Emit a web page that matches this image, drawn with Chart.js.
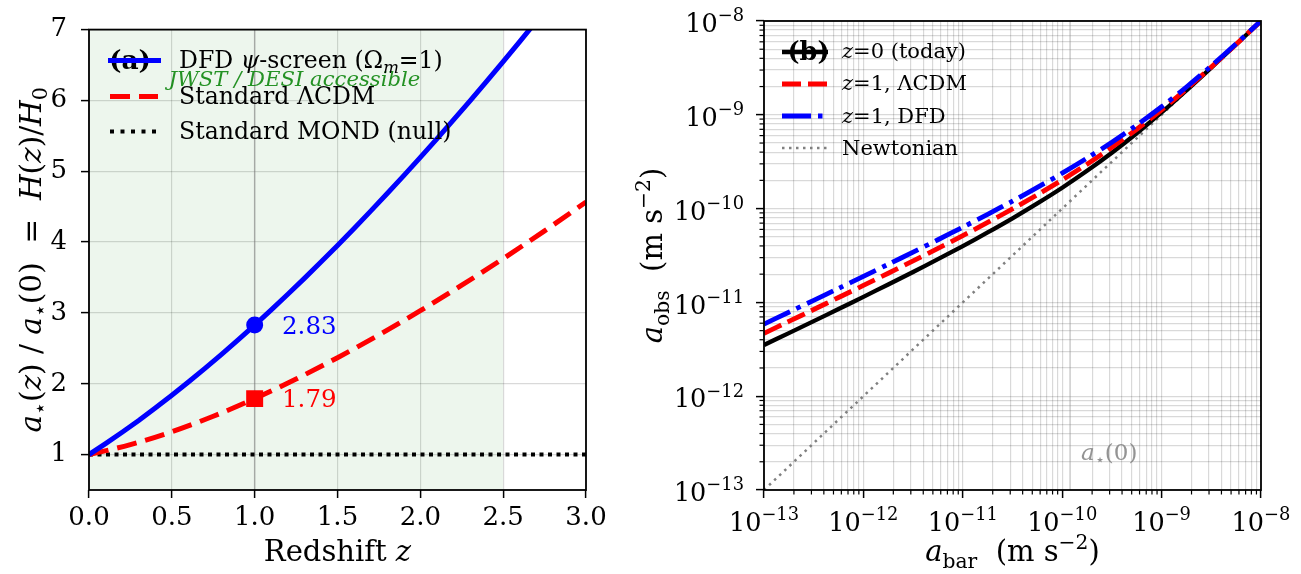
<!DOCTYPE html>
<html>
<head>
<meta charset="utf-8">
<script src="https://cdn.jsdelivr.net/npm/chart.js@4.4.1/dist/chart.umd.min.js"></script>
<style>
  html, body { margin: 0; padding: 0; background: #fff; }
  #wrap { position: relative; width: 1301px; height: 574px; overflow: hidden; }
  canvas { position: absolute; top: 0; }
  #c1 { left: 0; }
  #c2 { left: 620px; }
</style>
</head>
<body>
<div id="wrap">
  <canvas id="c1" width="620" height="574"></canvas>
  <canvas id="c2" width="681" height="574"></canvas>
</div>
<script>
// --- PANEL (a): H(z)/H0 ---
const zFine = [0, 0.1, 0.2, 0.3, 0.4, 0.5, 0.6, 0.7, 0.8, 0.9, 1.0, 1.1, 1.2, 1.3,
               1.4, 1.5, 1.6, 1.7, 1.8, 1.9, 2.0, 2.1, 2.2, 2.3, 2.4, 2.5, 2.6, 2.7];
const dfdRatio = [1.000, 1.154, 1.315, 1.482, 1.657, 1.837, 2.024, 2.217, 2.415, 2.619,
                  2.828, 3.043, 3.263, 3.488, 3.718, 3.953, 4.192, 4.437, 4.685, 4.939,
                  5.196, 5.458, 5.725, 5.995, 6.269, 6.548, 6.831, 7.117];
const zCoarse = [0, 0.25, 0.5, 0.75, 1.0, 1.25, 1.5, 1.75, 2.0, 2.25, 2.5, 2.75, 3.0];
const lcdmRatio = [1.000, 1.140, 1.322, 1.541, 1.790, 2.067, 2.368, 2.690, 3.032, 3.391,
                   3.767, 4.159, 4.566];
const mondRatio = [1, 1];
const mondZ = [0, 3];
const markZ = 1;
const markDfd = 2.83;
const markLcdm = 1.79;
const bandZ = [0, 2.5];
const zTicks = [0, 0.5, 1.0, 1.5, 2.0, 2.5, 3.0];
const ratioTicks = [1, 2, 3, 4, 5, 6, 7];

// --- PANEL (b): RAR ---
const aBar = [1e-13, 1.778e-13, 3.162e-13, 5.623e-13, 1e-12, 1.778e-12, 3.162e-12, 5.623e-12,
              1e-11, 1.778e-11, 3.162e-11, 5.623e-11, 1e-10, 1.778e-10, 3.162e-10, 5.623e-10,
              1e-9, 1.778e-9, 3.162e-9, 5.623e-9, 1e-8];
const aObsToday = [3.514e-12, 4.709e-12, 6.320e-12, 8.499e-12, 1.146e-11, 1.552e-11, 2.110e-11,
                   2.889e-11, 3.988e-11, 5.566e-11, 7.876e-11, 1.135e-10, 1.668e-10, 2.526e-10,
                   3.939e-10, 6.353e-10, 1.059e-9, 1.817e-9, 3.181e-9, 5.629e-9, 1.000e-8];
const aObsLcdm = [4.685e-12, 6.270e-12, 8.401e-12, 1.127e-11, 1.516e-11, 2.045e-11, 2.768e-11,
                  3.764e-11, 5.153e-11, 7.112e-11, 9.924e-11, 1.404e-10, 2.022e-10, 2.972e-10,
                  4.500e-10, 7.014e-10, 1.131e-9, 1.884e-9, 3.232e-9, 5.657e-9, 1.001e-8];
const aObsDfd = [5.876e-12, 7.858e-12, 1.052e-11, 1.410e-11, 1.893e-11, 2.547e-11, 3.437e-11,
                 4.656e-11, 6.340e-11, 8.692e-11, 1.202e-10, 1.682e-10, 2.387e-10, 3.452e-10,
                 5.108e-10, 7.768e-10, 1.219e-9, 1.979e-9, 3.319e-9, 5.721e-9, 1.004e-8];
const newtonX = [1e-13, 1e-8];
const aStar0 = 1.2e-10;
const decadeExps = [-13, -12, -11, -10, -9, -8];
const decadeLabels = ['−13', '−12', '−11', '−10', '−9', '−8'];

// --- TEXT ---
const legendA = [
  [{t: 'DFD '}, {t: 'ψ', i: 1}, {t: '-screen (Ω'}, {t: 'm', i: 1, sub: 1}, {t: '=1)'}],
  [{t: 'Standard ΛCDM'}],
  [{t: 'Standard MOND (null)'}]
];
const legendB = [
  [{t: 'z', i: 1}, {t: '=0 (today)'}],
  [{t: 'z', i: 1}, {t: '=1, ΛCDM'}],
  [{t: 'z', i: 1}, {t: '=1, DFD'}],
  [{t: 'Newtonian'}]
];
const titleAy = [{t: 'a', i: 1}, {t: '⋆', sub: 1}, {t: '('}, {t: 'z', i: 1}, {t: ') / '},
                 {t: 'a', i: 1}, {t: '⋆', sub: 1}, {t: '(0)  =  '}, {t: 'H', i: 1}, {t: '('},
                 {t: 'z', i: 1}, {t: ')/'}, {t: 'H', i: 1}, {t: '0', sub: 1}];
const titleAx = [{t: 'Redshift '}, {t: 'z', i: 1}];
const titleBx = [{t: 'a', i: 1}, {t: 'bar', sub: 1}, {t: '  (m s'}, {t: '−2', sup: 1}, {t: ')'}];
const titleBy = [{t: 'a', i: 1}, {t: 'obs', sub: 1}, {t: '  (m s'}, {t: '−2', sup: 1}, {t: ')'}];
const starLabel = [{t: 'a', i: 1}, {t: '⋆', sub: 1}, {t: '(0)'}];

const OX2 = 620;
const SERIF = '"DejaVu Serif", serif';
const gridColor = 'rgba(0,0,0,0.15)';

const pts = (xs, ys) => xs.map((x, i) => ({x, y: ys[i]}));

function runFont(r, base) {
  const size = (r.sub || r.sup) ? base * 0.7 : base;
  return (r.i ? 'italic ' : '') + (r.b ? 'bold ' : '') + size + 'px ' + SERIF;
}

function drawRich(ctx, runs, x, y, base, color, align, angle) {
  ctx.save();
  ctx.translate(x, y);
  if (angle) ctx.rotate(angle);
  ctx.fillStyle = color;
  ctx.textBaseline = 'alphabetic';
  let w = 0;
  runs.forEach(r => { ctx.font = runFont(r, base); w += ctx.measureText(r.t).width; });
  let cx = align === 'center' ? -w / 2 : (align === 'right' ? -w : 0);
  runs.forEach(r => {
    ctx.font = runFont(r, base);
    const dy = r.sub ? base * 0.22 : (r.sup ? -base * 0.42 : 0);
    ctx.fillText(r.t, cx, base * 0.36 + dy);
    cx += ctx.measureText(r.t).width;
  });
  ctx.restore();
}

function handle(ctx, x1, x2, y, color, width, dash) {
  ctx.save();
  ctx.strokeStyle = color;
  ctx.lineWidth = width;
  ctx.setLineDash(dash || []);
  ctx.beginPath();
  ctx.moveTo(x1, y);
  ctx.lineTo(x2, y);
  ctx.stroke();
  ctx.restore();
}

function frame(chart) {
  const {ctx, chartArea: a} = chart;
  ctx.save();
  ctx.strokeStyle = '#000';
  ctx.lineWidth = 1.8;
  ctx.strokeRect(a.left, a.top, a.right - a.left, a.bottom - a.top);
  ctx.restore();
}

// --- PANEL (a) CHART ---
new Chart(document.getElementById('c1'), {
  type: 'scatter',
  data: {
    datasets: [
      { data: pts([markZ], [markDfd]), pointStyle: 'circle', pointRadius: 8.5,
        backgroundColor: '#0000ff', borderWidth: 0, order: 0 },
      { data: pts([markZ], [markLcdm]), pointStyle: 'rect', pointRadius: 12,
        backgroundColor: '#ff0000', borderWidth: 0, order: 0 },
      { data: pts(zFine, dfdRatio), showLine: true, borderColor: '#0000ff', borderWidth: 5,
        pointRadius: 0, order: 1 },
      { data: pts(zCoarse, lcdmRatio), showLine: true, borderColor: '#ff0000', borderWidth: 5,
        borderDash: [20, 9], pointRadius: 0, cubicInterpolationMode: 'monotone', order: 2 },
      { data: pts(mondZ, mondRatio), showLine: true, borderColor: '#000', borderWidth: 4,
        borderDash: [4, 4.5], pointRadius: 0, order: 3 },
      { data: pts([markZ, markZ], [0.5, 7]), showLine: true, borderColor: 'rgba(128,128,128,0.5)',
        borderWidth: 1.5, pointRadius: 0, order: 5 },
      { data: pts(bandZ, [7, 7]), showLine: true, fill: 'start', backgroundColor: 'rgba(0,128,0,0.07)',
        borderColor: 'rgba(0,0,0,0)', borderWidth: 1, pointRadius: 0, order: 9 }
    ]
  },
  options: {
    responsive: false, animation: false, devicePixelRatio: 1,
    layout: { padding: { top: 21, right: 34, left: 0, bottom: 0 } },
    plugins: { legend: { display: false }, tooltip: { enabled: false } },
    scales: {
      x: {
        type: 'linear', min: 0, max: 3,
        afterBuildTicks: s => { s.ticks = zTicks.map(v => ({value: v})); },
        afterFit: s => { s.height = 84; },
        ticks: { callback: v => v.toFixed(1), font: { family: SERIF, size: 26 }, color: '#000',
                 padding: 5, maxRotation: 0, autoSkip: false },
        grid: { color: gridColor, lineWidth: 1.2, tickColor: '#000', tickLength: 8, tickWidth: 1.5 },
        border: { display: false }
      },
      y: {
        type: 'linear', min: 0.5, max: 7,
        afterBuildTicks: s => { s.ticks = ratioTicks.map(v => ({value: v})); },
        afterFit: s => { s.width = 89; },
        ticks: { callback: v => String(v), font: { family: SERIF, size: 26 }, color: '#000',
                 padding: 14, autoSkip: false },
        grid: { color: gridColor, lineWidth: 1.2, tickColor: '#000', tickLength: 8, tickWidth: 1.5 },
        border: { display: false }
      }
    }
  },
  plugins: [{
    id: 'decoA',
    afterDraw(chart) {
      const {ctx, chartArea: a, scales} = chart;
      frame(chart);
      // value labels
      drawRich(ctx, [{t: markDfd.toFixed(2)}], scales.x.getPixelForValue(1.165),
               scales.y.getPixelForValue(markDfd), 24.5, '#0000ff', 'left');
      drawRich(ctx, [{t: markLcdm.toFixed(2)}], scales.x.getPixelForValue(1.165),
               scales.y.getPixelForValue(markLcdm), 24.5, '#ff0000', 'left');
      // band label
      drawRich(ctx, [{t: 'JWST / DESI accessible', i: 1}], scales.x.getPixelForValue(1.24),
               a.top + 49, 21.2, 'rgba(0,128,0,0.85)', 'center');
      // panel tag + legend
      drawRich(ctx, [{t: '(a)', b: 1}], a.left + 41, a.top + 30, 26.5, '#000', 'center');
      handle(ctx, a.left + 19, a.left + 72, a.top + 31, '#0000ff', 5);
      handle(ctx, a.left + 21, a.left + 69, a.top + 67, '#ff0000', 5, [20, 9]);
      handle(ctx, a.left + 21, a.left + 69, a.top + 102, '#000', 4, [4, 6.5]);
      legendA.forEach((runs, k) => drawRich(ctx, runs, a.left + 90, a.top + 30 + k * 35.5, 23.6, '#000', 'left'));
      // axis titles
      drawRich(ctx, titleAx, (a.left + a.right) / 2, 551, 29, '#000', 'center');
      drawRich(ctx, titleAy, 30, (a.top + a.bottom) / 2, 29.5, '#000', 'center', -Math.PI / 2);
    }
  }]
});

// --- PANEL (b) CHART ---
function logTicks(s) {
  const t = [];
  decadeExps.forEach((e, i) => {
    for (let m = 1; m <= 9; m++) {
      if (i === decadeExps.length - 1 && m > 1) break;
      t.push({value: m * Math.pow(10, e), major: m === 1});
    }
  });
  s.ticks = t;
}
const majorTickColor = c => (c.tick && c.tick.major) ? '#000' : 'rgba(0,0,0,0)';

new Chart(document.getElementById('c2'), {
  type: 'scatter',
  data: {
    datasets: [
      { data: pts(aBar, aObsDfd), showLine: true, borderColor: '#0000ff', borderWidth: 4.8,
        borderDash: [29, 7, 4.5, 7], pointRadius: 0, tension: 0.3, order: 0 },
      { data: pts(aBar, aObsLcdm), showLine: true, borderColor: '#ff0000', borderWidth: 4.8,
        borderDash: [19, 7], pointRadius: 0, tension: 0.3, order: 1 },
      { data: pts(aBar, aObsToday), showLine: true, borderColor: '#000', borderWidth: 4.3,
        pointRadius: 0, tension: 0.3, order: 2 },
      { data: pts(newtonX, newtonX), showLine: true, borderColor: '#808080', borderWidth: 2.5,
        borderDash: [2.5, 4.5], pointRadius: 0, order: 3 },
      { data: pts([aStar0, aStar0], [1e-13, 1e-8]), showLine: true, borderColor: 'rgba(128,128,128,0.5)',
        borderWidth: 1.2, pointRadius: 0, order: 4 }
    ]
  },
  options: {
    responsive: false, animation: false, devicePixelRatio: 1,
    layout: { padding: { top: 21, right: 40, left: 0, bottom: 0 } },
    plugins: { legend: { display: false }, tooltip: { enabled: false } },
    scales: {
      x: {
        type: 'logarithmic', min: 1e-13, max: 1e-8,
        afterBuildTicks: logTicks,
        afterFit: s => { s.height = 84; },
        ticks: { display: false },
        grid: { color: gridColor, lineWidth: 1.2, tickColor: majorTickColor, tickLength: 8, tickWidth: 1.5 },
        border: { display: false }
      },
      y: {
        type: 'logarithmic', min: 1e-13, max: 1e-8,
        afterBuildTicks: logTicks,
        afterFit: s => { s.width = 764 - OX2; },
        ticks: { display: false },
        grid: { color: gridColor, lineWidth: 1.2, tickColor: majorTickColor, tickLength: 8, tickWidth: 1.5 },
        border: { display: false }
      }
    }
  },
  plugins: [{
    id: 'decoB',
    afterDraw(chart) {
      const {ctx, chartArea: a, scales} = chart;
      frame(chart);
      // minor ticks
      ctx.save();
      ctx.strokeStyle = '#000';
      ctx.lineWidth = 1.2;
      scales.x.ticks.forEach(t => {
        if (t.major) return;
        const px = scales.x.getPixelForValue(t.value);
        ctx.beginPath(); ctx.moveTo(px, a.bottom); ctx.lineTo(px, a.bottom + 4.5); ctx.stroke();
      });
      scales.y.ticks.forEach(t => {
        if (t.major) return;
        const py = scales.y.getPixelForValue(t.value);
        ctx.beginPath(); ctx.moveTo(a.left, py); ctx.lineTo(a.left - 4.5, py); ctx.stroke();
      });
      ctx.restore();
      // decade tick labels
      decadeExps.forEach((e, k) => {
        const v = Math.pow(10, e);
        const runs = [{t: '10'}, {t: decadeLabels[k], sup: 1}];
        drawRich(ctx, runs, scales.x.getPixelForValue(v), 522, 25.5, '#000', 'center');
        drawRich(ctx, runs, a.left - 20, scales.y.getPixelForValue(v) + 2, 25.5, '#000', 'right');
      });
      // a*(0) label
      drawRich(ctx, starLabel, scales.x.getPixelForValue(1.55e-10), scales.y.getPixelForValue(2.55e-13),
               23, 'rgba(128,128,128,0.85)', 'left');
      // panel tag + legend
      drawRich(ctx, [{t: '(b)', b: 1}], 808.5 - OX2, 51, 25.5, '#000', 'center');
      const hx1 = 782 - OX2, hx2 = 828 - OX2;
      handle(ctx, hx1, hx2, 52, '#000', 4.3);
      handle(ctx, hx1, hx2, 84, '#ff0000', 4.8, [19, 7]);
      handle(ctx, hx1, hx2, 116, '#0000ff', 4.8, [29, 7, 4.5, 7]);
      handle(ctx, hx1, hx2, 148, '#808080', 2.5, [2.5, 4.5]);
      legendB.forEach((runs, k) => drawRich(ctx, runs, 842 - OX2, 50 + k * 32.5, 21, '#000', 'left'));
      // axis titles
      drawRich(ctx, titleBx, (a.left + a.right) / 2, 551, 29, '#000', 'center');
      drawRich(ctx, titleBy, 652 - OX2, (a.top + a.bottom) / 2, 29, '#000', 'center', -Math.PI / 2);
    }
  }]
});
</script>
</body>
</html>
